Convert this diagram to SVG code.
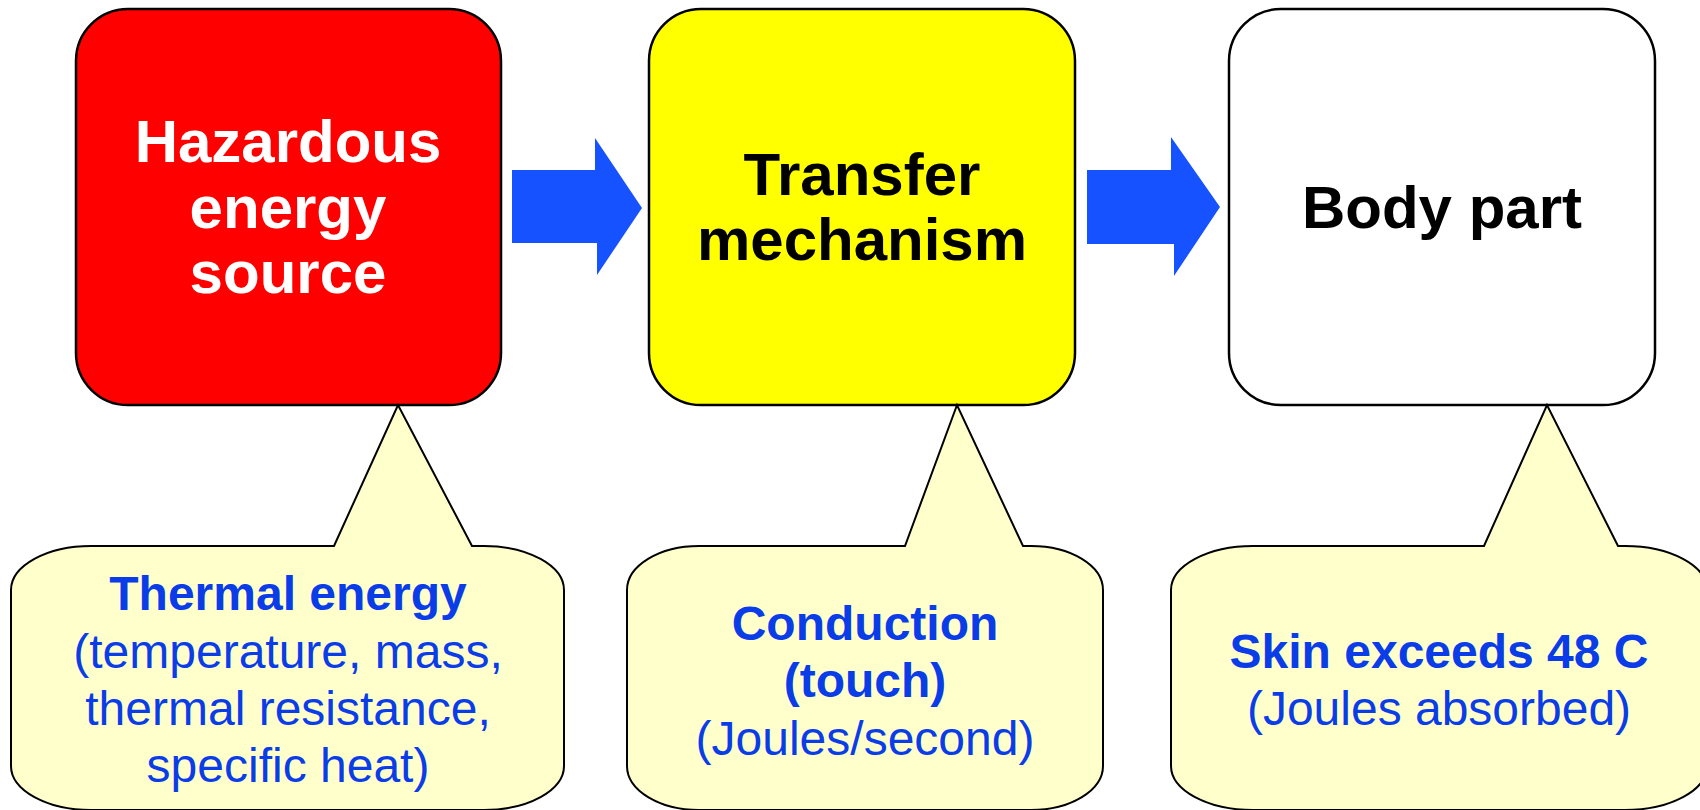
<svg xmlns="http://www.w3.org/2000/svg" width="1700" height="810" viewBox="0 0 1700 810">
  <style>
    .box { stroke: #000; stroke-width: 2.5; }
    .callout { fill: #FFFFCC; stroke: #000; stroke-width: 2; stroke-linejoin: miter; }
    .arrow { fill: #1652FF; }
    text { font-family: "Liberation Sans", Arial, sans-serif; text-anchor: middle; }
    .head { font-size: 60px; font-weight: bold; }
    .note { font-size: 48px; fill: #0A3DE8; }
    .b { font-weight: bold; }
  </style>

  <!-- stage boxes -->
  <g id="source">
    <rect class="box" x="76" y="9" width="425" height="396" rx="52" ry="52" fill="#FF0000"/>
    <text class="head" fill="#FFFFFF" x="288" y="162">Hazardous</text>
    <text class="head" fill="#FFFFFF" x="288" y="228">energy</text>
    <text class="head" fill="#FFFFFF" x="288" y="293">source</text>
  </g>

  <g id="transfer">
    <rect class="box" x="649" y="9" width="426" height="396" rx="52" ry="52" fill="#FFFF00"/>
    <text class="head" fill="#000000" x="862" y="195">Transfer</text>
    <text class="head" fill="#000000" x="862" y="260">mechanism</text>
  </g>

  <g id="body">
    <rect class="box" x="1229" y="9" width="426" height="396" rx="52" ry="52" fill="#FFFFFF"/>
    <text class="head" fill="#000000" x="1442" y="228">Body part</text>
  </g>

  <!-- block arrows between stages -->
  <g id="connectors">
    <path class="arrow" d="M512,170 L595,170 L595,138 L642,208 L597,275 L597,243 L512,243 Z"/>
    <path class="arrow" d="M1087,170 L1171,170 L1171,137 L1220,207 L1174,276 L1174,244 L1087,244 Z"/>
  </g>

  <!-- callouts -->
  <g id="callout-energy">
    <path class="callout" d="M91,546 L334,546 L398,405 L472,546 L484,546 A80 44 0 0 1 564,590 L564,766 A80 44 0 0 1 484,810 L91,810 A80 44 0 0 1 11,766 L11,590 A80 44 0 0 1 91,546 Z"/>
    <text class="note b" x="288" y="610">Thermal energy</text>
    <text class="note" x="288" y="668">(temperature, mass,</text>
    <text class="note" x="288" y="725">thermal resistance,</text>
    <text class="note" x="288" y="782">specific heat)</text>
  </g>

  <g id="callout-transfer">
    <path class="callout" d="M699,546 L905,546 L957,405 L1023,546 L1031,546 A72 44 0 0 1 1103,590 L1103,766 A72 44 0 0 1 1031,810 L699,810 A72 44 0 0 1 627,766 L627,590 A72 44 0 0 1 699,546 Z"/>
    <text class="note b" x="865" y="640">Conduction</text>
    <text class="note b" x="865" y="697">(touch)</text>
    <text class="note" x="865" y="755">(Joules/second)</text>
  </g>

  <g id="callout-body">
    <path class="callout" d="M1253,546 L1484,546 L1547,405 L1618,546 L1625,546 A82 44 0 0 1 1707,590 L1707,766 A82 44 0 0 1 1625,810 L1253,810 A82 44 0 0 1 1171,766 L1171,590 A82 44 0 0 1 1253,546 Z"/>
    <text class="note b" x="1439" y="668">Skin exceeds 48 C</text>
    <text class="note" x="1439" y="725">(Joules absorbed)</text>
  </g>
</svg>
